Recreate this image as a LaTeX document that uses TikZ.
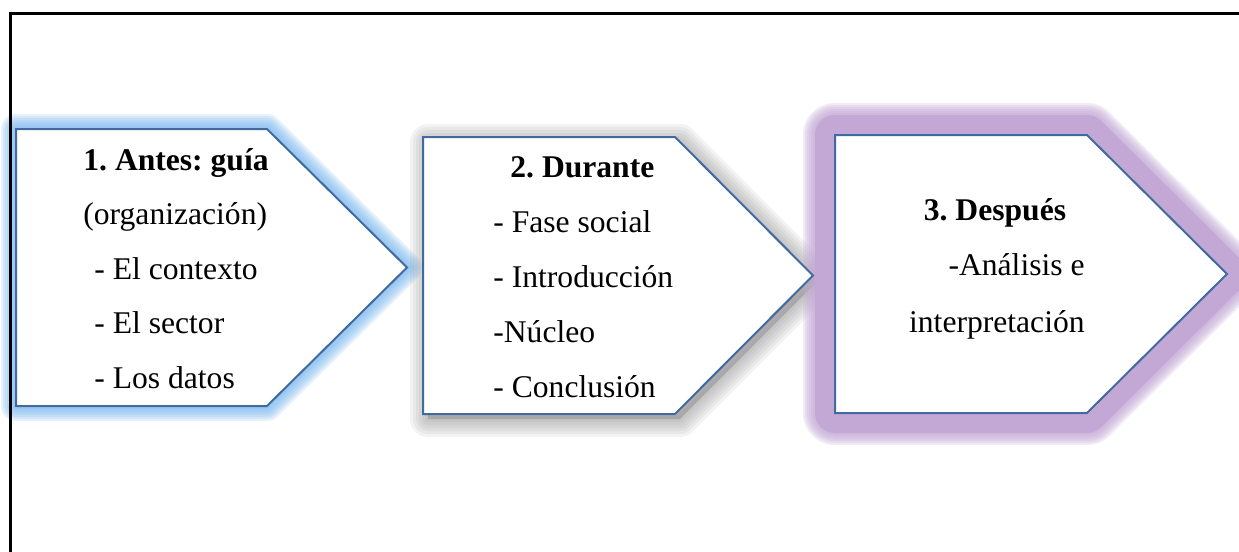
\documentclass[tikz,border=0pt]{standalone}
\usepackage{fontspec}
\setmainfont{Liberation Serif}
\frenchspacing
% home-plate outline: left, top, bottom, notch x, tip x
\newcommand\plate[5]{(#1,#2) -- (#4,#2) -- (#5,{(#2+#3)/2}) -- (#4,#3) -- (#1,#3) -- cycle}
\definecolor{edgeblue}{RGB}{65,106,160}
\definecolor{glowblue}{RGB}{125,186,240}
\definecolor{glowpurple}{RGB}{195,168,214}
\definecolor{shadowgray}{RGB}{140,140,140}
\tikzset{
  x=0.5pt, y=-0.5pt,
  platebody/.style={fill=white, draw=edgeblue, line width=1pt, line join=miter},
  txt/.style={font=\fontsize{15.8}{20}\selectfont, inner sep=0pt},
  lbl/.style={txt, anchor=base west},
  ttl/.style={txt, anchor=base west, font=\fontsize{15.8}{20}\selectfont\bfseries},
  frame/.style={draw=black, line width=1.5pt}
}
\begin{document}
\begin{tikzpicture}
\useasboundingbox (0,0) rectangle (1239,552);
\fill[white] (0,0) rectangle (1239,552);

% soft blue glow round the first step
\foreach \w in {15,13,11,9,7,5,3}
  \draw[glowblue, line width=\w pt, opacity=0.18, line join=round] \plate{16}{129}{406}{267}{407};
% blurred grey shadow under the second step
\foreach \w in {18,15,12,9,6,3}
  \draw[shadowgray, fill=shadowgray, line width=\w pt, opacity=0.1, line join=round,
        shift={(5,5)}] \plate{423}{137}{414}{675}{813};
% wide purple glow round the third step
\foreach \w in {32,30,28,26,24,22}
  \draw[glowpurple, line width=\w pt, opacity=0.22, line join=round] \plate{835}{135}{413}{1087}{1227};
\draw[glowpurple, line width=20pt, line join=round] \plate{835}{135}{413}{1087}{1227};

% page frame (top and left rules)
\draw[frame] (10,552) -- (10,13) -- (1239,13);

% step bodies
\draw[platebody] \plate{16}{129}{406}{267}{407};
\draw[platebody] \plate{423}{137}{414}{675}{813};
\draw[platebody] \plate{835}{135}{413}{1087}{1227};

% step 1 text
\node[ttl] (s1title) at (83,170) {1. Antes: guía};
\node[lbl] (s1org)   at (83,224.5) {(organización)};
\node[lbl] (s1ctx)   at (94,279) {- El contexto};
\node[lbl] (s1sec)   at (94,333.5) {- El sector};
\node[lbl] (s1dat)   at (94,388) {- Los datos};

% step 2 text
\node[ttl] (s2title) at (510,177) {2. Durante};
\node[lbl] (s2fase)  at (493,232) {- Fase social};
\node[lbl] (s2intro) at (493,287) {- Introducción};
\node[lbl] (s2nuc)   at (493,342) {-Núcleo};
\node[lbl] (s2conc)  at (493,397) {- Conclusión};

% step 3 text
\node[txt, anchor=base, font=\fontsize{15.8}{20}\selectfont\bfseries] (s3title) at (995,220) {3. Después};
\node[txt, anchor=base east] (s3ana) at (1085,275) {-Análisis e};
\node[txt, anchor=base east] (s3int) at (1085,332) {interpretación};
\end{tikzpicture}
\end{document}
